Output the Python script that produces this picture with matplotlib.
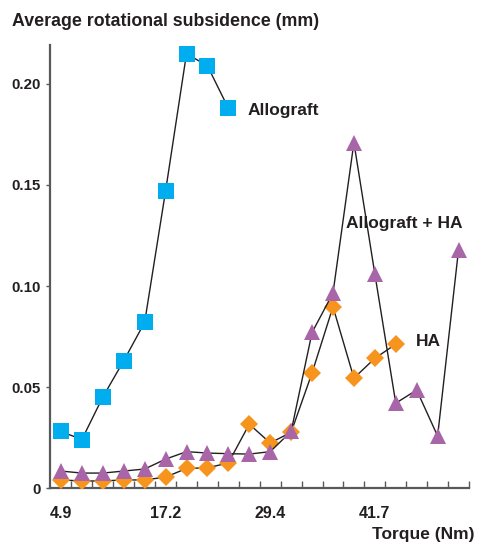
import numpy as np
import matplotlib
matplotlib.use("Agg")
import matplotlib.pyplot as plt
from matplotlib.ticker import FixedLocator

# ----------------------------------------------------------------------------
# Data
# ----------------------------------------------------------------------------
TORQUE_STEP = 2.45
torque = 4.9 + TORQUE_STEP * np.arange(20)          # Nm, 4.9 ... 51.45
tick_torque = [4.9, 17.15, 29.4, 41.65]
tick_labels = ["4.9", "17.2", "29.4", "41.7"]

allograft = [0.028, 0.024, 0.045, 0.063, 0.082, 0.147, 0.215, 0.209, 0.188]
allograft_ha = [0.0084, 0.0074, 0.0074, 0.0084, 0.0094, 0.0143, 0.018,
                0.0173, 0.017, 0.0168, 0.018, 0.028, 0.077, 0.0965, 0.171,
                0.106, 0.042, 0.0485, 0.0257, 0.118]
ha = [0.004, 0.0035, 0.0035, 0.004, 0.004, 0.0054, 0.0097, 0.010, 0.0124,
      0.0316, 0.0223, 0.0276, 0.057, 0.0897, 0.0544, 0.0642, 0.0712]

yticks = [0, 0.05, 0.10, 0.15, 0.20]
ytick_labels = ["0", "0.05", "0.10", "0.15", "0.20"]

BLUE = "#00aeef"
ORANGE = "#f7941d"
PURPLE = "#a865a8"
INK = "#231f20"
AXIS = "#58595b"

plt.rcParams["font.family"] = ["Liberation Sans", "DejaVu Sans"]
plt.rcParams["font.weight"] = "bold"

fig = plt.figure(figsize=(4.78, 5.44), dpi=100)
ax = fig.add_axes([0.1056, 0.1029, 0.9812 - 0.1056, 0.9173 - 0.1029])

line_kw = dict(color=INK, lw=1.0, markeredgewidth=0, zorder=3)
ax.plot(torque[:len(ha)], ha, marker="D", ms=9, markerfacecolor=ORANGE,
        **line_kw)
ax.plot(torque[:len(allograft_ha)], allograft_ha, marker="^", ms=12,
        markerfacecolor=PURPLE, **line_kw)
ax.plot(torque[:len(allograft)], allograft, marker="s", ms=11.5,
        markerfacecolor=BLUE, **line_kw)

half = TORQUE_STEP / 2
ax.set_xlim(torque[0] - half, torque[-1] + half)
ax.set_ylim(0, 0.2193)

for s in ("top", "right"):
    ax.spines[s].set_visible(False)
for s in ("left", "bottom"):
    ax.spines[s].set_color(AXIS)
    ax.spines[s].set_linewidth(1.6)

ax.set_yticks(yticks)
ax.set_yticklabels(ytick_labels)
ax.tick_params(axis="y", direction="out", length=3, width=1, color=AXIS,
               pad=4, labelsize=10.8, labelcolor=INK)

ax.set_xticks(tick_torque)
ax.set_xticklabels(tick_labels)
ax.tick_params(axis="x", which="major", length=0, pad=13, labelsize=11.5,
               labelcolor=INK)
ax.xaxis.set_minor_locator(FixedLocator(list(torque + half)))
ax.tick_params(axis="x", which="minor", direction="in", length=5, width=1,
               color=AXIS)

# series labels
lab_kw = dict(fontsize=12.5, color=INK, va="center", ha="left")
ax.text(26.8, 0.187, "Allograft", **lab_kw)
ax.text(38.3, 0.1307, "Allograft + HA", **lab_kw)
ax.text(46.4, 0.0723, "HA", **lab_kw)

fig.text(12 / 478, 1 - 21 / 544, "Average rotational subsidence (mm)",
         fontsize=12.8, color=INK, ha="left", va="center")
fig.text(475 / 478, 1 - 535 / 544, "Torque (Nm)", fontsize=12.5, color=INK,
         ha="right", va="center")

fig.savefig("out.png", dpi=100)
